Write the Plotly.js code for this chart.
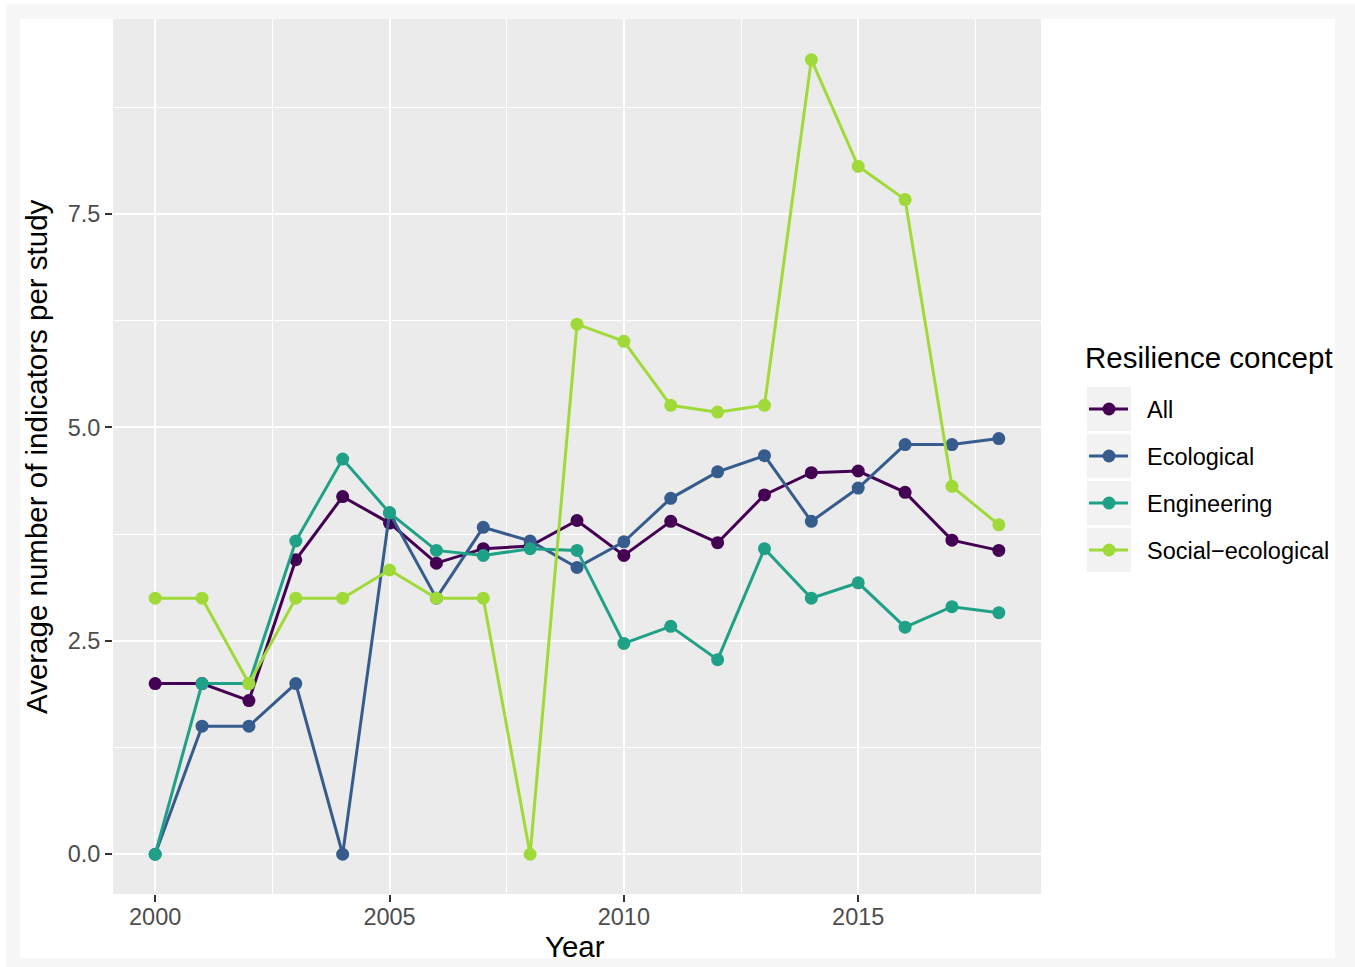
<!DOCTYPE html>
<html><head><meta charset="utf-8">
<script src="https://cdn.plot.ly/plotly-3.0.1.min.js"></script>
<style>
html,body{margin:0;padding:0;background:#fff;width:1355px;height:967px;overflow:hidden;}
#chart{position:absolute;left:0;top:0;width:1355px;height:967px;}
.strip{position:absolute;background:#f7f7f7;z-index:5;pointer-events:none;}
</style></head><body>
<div id="chart"></div>
<div class="strip" style="left:6px;top:4px;width:1349px;height:15px;"></div>
<div class="strip" style="left:6px;top:4px;width:14px;height:963px;"></div>
<div class="strip" style="left:1335px;top:4px;width:20px;height:963px;"></div>
<div class="strip" style="left:6px;top:958px;width:1349px;height:9px;"></div>
<script>
const years = [2000,2001,2002,2003,2004,2005,2006,2007,2008,2009,2010,2011,2012,2013,2014,2015,2016,2017,2018];
const allValues = [2.0,2.0,1.8,3.45,4.19,3.88,3.41,3.58,3.61,3.91,3.50,3.90,3.65,4.21,4.47,4.49,4.24,3.68,3.56];
const ecological = [0,1.5,1.5,2.0,0,4.0,3.0,3.83,3.67,3.36,3.66,4.17,4.48,4.67,3.90,4.29,4.80,4.80,4.87];
const engineering = [0,2.0,2.0,3.67,4.63,4.0,3.56,3.50,3.58,3.56,2.47,2.67,2.28,3.58,3.0,3.18,2.66,2.90,2.83];
const socialEcological = [3.0,3.0,2.0,3.0,3.0,3.33,3.0,3.0,0,6.21,6.01,5.26,5.18,5.26,9.31,8.06,7.67,4.31,3.86];
const seriesNames = ['All','Ecological','Engineering','Social\u2212ecological'];
const seriesColors = ['#440154','#365C8D','#1FA187','#A0DA39'];
const seriesValues = [allValues, ecological, engineering, socialEcological];
const legendTitle = 'Resilience concept';
const xTitle = 'Year';
const yTitle = 'Average number of indicators per study';

const FONT = '"Liberation Sans", Arial, Helvetica, sans-serif';
// geometry (page pixels)
const W = 1355, H = 967, ML = 113, MR = 314, MT = 19, MB = 73;
const PW = W - ML - MR, PH = H - MT - MB;
const px = x => (x - ML) / PW;        // page x -> paper x
const py = y => 1 - (y - MT) / PH;    // page y -> paper y

const traces = seriesNames.map((name, i) => ({
  x: years, y: seriesValues[i], name: name, type: 'scatter', mode: 'lines+markers',
  showlegend: false,
  line: {color: seriesColors[i], width: 3},
  marker: {color: seriesColors[i], size: 13}
}));

// ggplot-style legend: grey key boxes, line + point glyphs, labels
const KEY_L = 1087, KEY_R = 1131, KEY_TOP = 387, KEY_H = 44, KEY_STEP = 47;
const shapes = [];
const annotations = [];
seriesNames.forEach((name, i) => {
  const top = KEY_TOP + i * KEY_STEP, mid = top + KEY_H / 2;
  shapes.push({type: 'rect', xref: 'paper', yref: 'paper', layer: 'below',
    x0: px(KEY_L), x1: px(KEY_R), y0: py(top), y1: py(top + KEY_H),
    fillcolor: '#F2F2F2', line: {width: 0}});
  shapes.push({type: 'line', xref: 'paper', yref: 'paper', layer: 'above',
    x0: px(KEY_L + 2), x1: px(KEY_R - 3), y0: py(mid), y1: py(mid),
    line: {color: seriesColors[i], width: 3}});
  shapes.push({type: 'circle', xref: 'paper', yref: 'paper', layer: 'above',
    xsizemode: 'pixel', ysizemode: 'pixel',
    xanchor: px((KEY_L + KEY_R) / 2), yanchor: py(mid),
    x0: -6.5, x1: 6.5, y0: -6.5, y1: 6.5,
    fillcolor: seriesColors[i], line: {width: 0}});
  annotations.push({xref: 'paper', yref: 'paper', x: px(1145), y: py(mid + 1),
    xanchor: 'left', yanchor: 'middle', showarrow: false, text: name,
    font: {family: FONT, size: 23.5, color: '#000'}});
});
annotations.push({xref: 'paper', yref: 'paper', x: px(1083), y: py(357),
  xanchor: 'left', yanchor: 'middle', showarrow: false, text: legendTitle,
  font: {family: FONT, size: 29.5, color: '#000'}});
// axis titles (ggplot placement)
annotations.push({xref: 'paper', yref: 'paper', x: px(575), y: py(946),
  xanchor: 'center', yanchor: 'middle', showarrow: false, text: xTitle,
  font: {family: FONT, size: 29.5, color: '#000'}});
annotations.push({xref: 'paper', yref: 'paper', x: px(36), y: py(457),
  xanchor: 'center', yanchor: 'middle', showarrow: false, text: yTitle, textangle: -90,
  font: {family: FONT, size: 29.5, color: '#000'}});

const layout = {
  width: W, height: H,
  margin: {l: ML, r: MR, t: MT, b: MB, pad: 0},
  paper_bgcolor: '#ffffff', plot_bgcolor: '#EBEBEB',
  font: {family: FONT, color: '#000'},
  showlegend: false,
  xaxis: {
    range: [1999.1, 2018.9], tickmode: 'linear', tick0: 2000, dtick: 5,
    showgrid: true, gridcolor: '#ffffff', gridwidth: 2.2, zeroline: false, showline: false,
    ticks: 'outside', ticklen: 7, tickwidth: 2, tickcolor: '#333333',
    ticklabelstandoff: -5,
    tickfont: {family: FONT, size: 23.5, color: '#4D4D4D'},
    minor: {dtick: 2.5, tick0: 2000, showgrid: true, gridcolor: '#ffffff', gridwidth: 1.1, ticks: ''},
    automargin: false
  },
  yaxis: {
    range: [-0.466, 9.786], tickmode: 'linear', tick0: 0, dtick: 2.5, tickformat: '.1f',
    showgrid: true, gridcolor: '#ffffff', gridwidth: 2.2, zeroline: false, showline: false,
    ticks: 'outside', ticklen: 7, tickwidth: 2, tickcolor: '#333333',
    tickfont: {family: FONT, size: 23.5, color: '#4D4D4D'},
    minor: {dtick: 1.25, tick0: 0, showgrid: true, gridcolor: '#ffffff', gridwidth: 1.1, ticks: ''},
    automargin: false
  },
  shapes: shapes,
  annotations: annotations
};

Plotly.newPlot('chart', traces, layout, {displayModeBar: false, responsive: false});
</script>
</body></html>
